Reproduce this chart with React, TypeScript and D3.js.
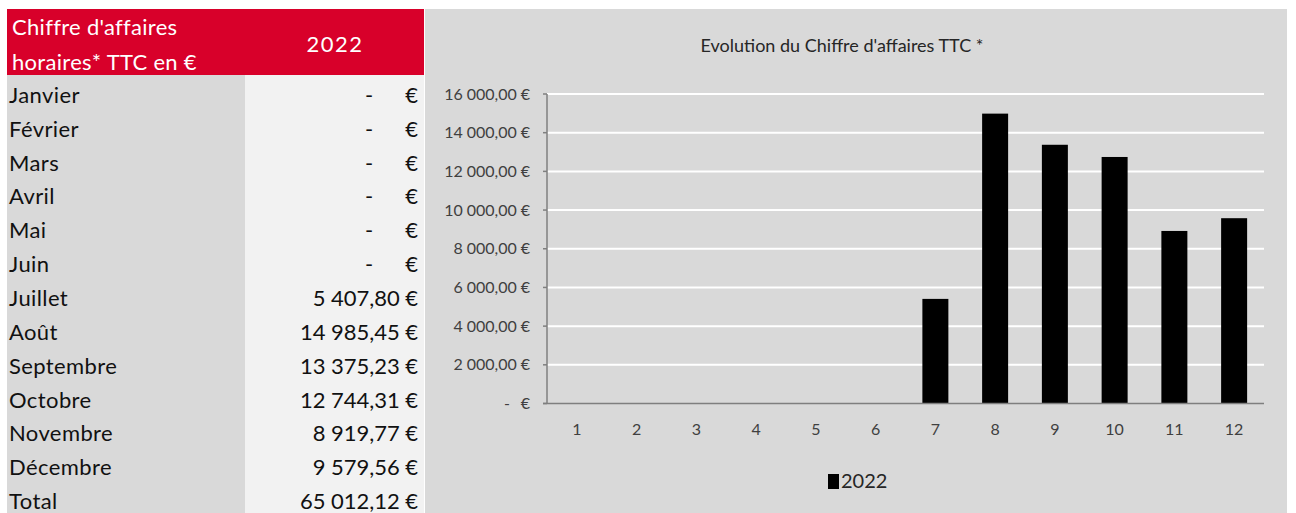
import React from 'react';
import * as d3 from 'd3';

const months = ['Janvier', 'Février', 'Mars', 'Avril', 'Mai', 'Juin', 'Juillet', 'Août', 'Septembre', 'Octobre', 'Novembre', 'Décembre'];
const monthNums = ['1', '2', '3', '4', '5', '6', '7', '8', '9', '10', '11', '12'];
const values2022 = [0, 0, 0, 0, 0, 0, 5407.80, 14985.45, 13375.23, 12744.31, 8919.77, 9579.56];
const yTicks = [0, 2000, 4000, 6000, 8000, 10000, 12000, 14000, 16000];
const seriesName = '2022';
const title = "Evolution du Chiffre d'affaires TTC *";

const FONT = "Lato, 'Open Sans', sans-serif";

function fmtEuro(v: number): string {
  const fixed = v.toFixed(2);
  const [ip, dp] = fixed.split('.');
  const withSpaces = ip.replace(/\B(?=(\d{3})+(?!\d))/g, '\u202F');
  return `${withSpaces},${dp}\u202F€`;
}

export default function App() {
  const W = 1296, H = 513;
  const tableX = 7, tableTop = 9, headerBottom = 75, colSplit = 245, tableRight = 424;
  const rowH = 33.85;

  const chartX = 425, chartRight = 1287;
  const plotLeft = 547, plotRight = 1264;
  const x = d3.scaleBand<string>().domain(monthNums).range([plotLeft, plotRight]).paddingInner(0.565).paddingOuter(0.2825);
  const y = d3.scaleLinear().domain([0, 16000]).range([403.5, 94]);
  const total = d3.sum(values2022);

  const rows = [...months.map((m, i) => ({ label: m, v: values2022[i] })), { label: 'Total', v: total }];
  const tfs = 22;

  return (
    <svg width={W} height={H} style={{ position: 'absolute', left: 0, top: 0, background: '#fff' }} fontFamily={FONT} fontWeight={400}>
      {/* Table */}
      <rect x={tableX} y={tableTop} width={tableRight - tableX} height={headerBottom - tableTop} fill="#d8002a" />
      <text x={12} y={35} fill="#fff" fontSize={tfs} letterSpacing={0.3}>Chiffre d'affaires</text>
      <text x={12} y={70} fill="#fff" fontSize={tfs} letterSpacing={0.3}>horaires* TTC en €</text>
      <text x={335} y={52} fill="#fff" fontSize={tfs} letterSpacing={1.5} textAnchor="middle">{seriesName}</text>
      <rect x={tableX} y={headerBottom} width={colSplit - tableX} height={H - headerBottom} fill="#d9d9d9" />
      <rect x={colSplit} y={headerBottom} width={tableRight - colSplit} height={H - headerBottom} fill="#f2f2f2" />
      {rows.map((r, i) => {
        const base = headerBottom + rowH * (i + 1) - 6;
        return (
          <g key={r.label}>
            <text x={9} y={base} fill="#111" fontSize={tfs} letterSpacing={0.4}>{r.label}</text>
            {r.v === 0 ? (
              <>
                <text x={369} y={base} fill="#111" fontSize={tfs} textAnchor="middle">-</text>
                <text x={418} y={base} fill="#111" fontSize={tfs} textAnchor="end">€</text>
              </>
            ) : (
              <text x={418} y={base} fill="#111" fontSize={tfs} letterSpacing={1.8} textAnchor="end">{fmtEuro(r.v)}</text>
            )}
          </g>
        );
      })}

      {/* Chart */}
      <rect x={chartX} y={tableTop} width={chartRight - chartX} height={H - tableTop} fill="#d9d9d9" />
      <text x={842} y={52} fontSize={18} fill="#262626" textAnchor="middle">{title}</text>
      {yTicks.filter(t => t > 0).map(t => (
        <line key={t} x1={plotLeft} x2={plotRight} y1={y(t)} y2={y(t)} stroke="#ffffff" strokeWidth={2} />
      ))}
      {values2022.map((v, i) => v > 0 ? (
        <rect key={i} x={x(monthNums[i])} y={y(v)} width={x.bandwidth()} height={y(0) - y(v)} fill="#000" />
      ) : null)}
      <line x1={plotLeft} x2={plotLeft} y1={y(16000)} y2={y(0)} stroke="#7f7f7f" strokeWidth={1.5} />
      <line x1={plotLeft - 4} x2={plotRight} y1={y(0)} y2={y(0)} stroke="#7f7f7f" strokeWidth={1.5} />
      {yTicks.map(t => (
        <g key={t}>
          <line x1={plotLeft - 4} x2={plotLeft} y1={y(t)} y2={y(t)} stroke="#7f7f7f" strokeWidth={1.5} />
          {t === 0 ? (
            <>
              <text x={507} y={y(t) + 5.5} fontSize={16} fill="#404040" textAnchor="middle">-</text>
              <text x={530} y={y(t) + 5.5} fontSize={16} fill="#404040" textAnchor="end">€</text>
            </>
          ) : (
            <text x={530} y={y(t) + 5.5} fontSize={16} fill="#404040" letterSpacing={0.1} textAnchor="end">{fmtEuro(t)}</text>
          )}
        </g>
      ))}
      {monthNums.map(m => (
        <text key={m} x={(x(m) as number) + x.bandwidth() / 2} y={435} fontSize={16} fill="#404040" textAnchor="middle">{m}</text>
      ))}
      <rect x={828} y={474} width={11} height={15} fill="#000" />
      <text x={841} y={488} fontSize={20} fill="#262626">{seriesName}</text>
    </svg>
  );
}
